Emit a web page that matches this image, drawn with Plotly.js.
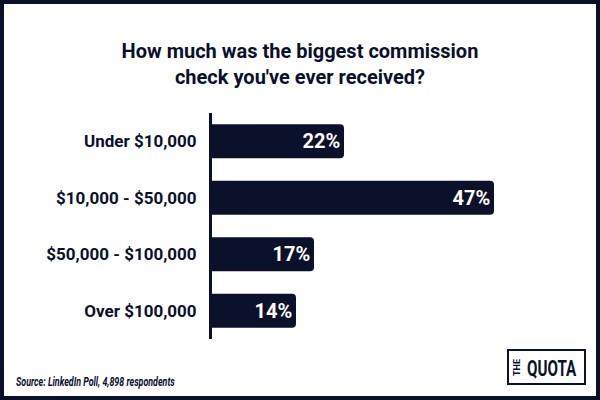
<!DOCTYPE html>
<html>
<head>
<meta charset="utf-8">
<script src="https://cdn.plot.ly/plotly-3.0.1.min.js"></script>
<style>
html, body { margin: 0; padding: 0; background: #ffffff; }
#chart { width: 600px; height: 400px; }
</style>
</head>
<body>
<div id="chart"></div>
<script>
const categories = ["Under $10,000", "$10,000 - $50,000", "$50,000 - $100,000", "Over $100,000"];
const shares = [22, 47, 17, 14];
const shareLabels = ["22%", "47%", "17%", "14%"];
const titleText = "How much was the biggest commission<br>check you've ever received?";
const sourceText = "Source: LinkedIn Poll, 4,898 respondents";
const logoMain = "QUOTA";
const logoSide = "THE";

const NAVY = "#0b102b";
const W = 600, H = 400;
const M = { l: 212, r: 40, t: 113, b: 61 };
const PW = W - M.l - M.r, PH = H - M.t - M.b;
const px = x => (x - M.l) / PW;
const py = y => (H - M.b - y) / PH;

const trace = {
  type: "bar",
  orientation: "h",
  y: categories,
  x: shares,
  text: shareLabels,
  textposition: "inside",
  insidetextanchor: "end",
  textangle: 0,
  textfont: { family: "Roboto", size: 20, color: "#ffffff", weight: 700 },
  marker: { color: NAVY, cornerradius: 4 },
  hoverinfo: "none",
  cliponaxis: false
};

const layout = {
  width: W, height: H,
  margin: M,
  paper_bgcolor: "#ffffff",
  plot_bgcolor: "#ffffff",
  showlegend: false,
  bargap: 0.4,
  title: {
    text: titleText,
    font: { family: "Roboto", size: 20, color: NAVY, weight: 700 },
    x: 0.5, xref: "container", xanchor: "center",
    y: 0.855, yref: "container", yanchor: "middle"
  },
  xaxis: {
    range: [0, 58],
    showgrid: false, zeroline: false, showline: false,
    showticklabels: false, ticks: "", fixedrange: true
  },
  yaxis: {
    autorange: "reversed",
    showgrid: false, zeroline: false,
    showline: true, linecolor: NAVY, linewidth: 3,
    ticks: "outside", ticklen: 9, tickcolor: "rgba(0,0,0,0)",
    tickfont: { family: "Roboto", size: 17, color: NAVY, weight: 700 },
    fixedrange: true
  },
  shapes: [
    { type: "rect", xref: "paper", yref: "paper", layer: "above",
      x0: px(0), x1: px(600), y0: py(400), y1: py(0),
      line: { color: NAVY, width: 8 }, fillcolor: "rgba(0,0,0,0)" },
    { type: "rect", xref: "paper", yref: "paper", layer: "above",
      x0: px(508), x1: px(585), y0: py(384), y1: py(350),
      line: { color: NAVY, width: 2 }, fillcolor: "rgba(0,0,0,0)" }
  ],
  annotations: [
    { xref: "paper", yref: "paper", x: px(14), y: py(382), xanchor: "left", yanchor: "middle",
      text: sourceText, showarrow: false,
      font: { family: "Roboto", size: 12, color: NAVY, style: "italic", weight: 700 } },
    { xref: "paper", yref: "paper", x: px(525), y: py(368), xanchor: "left", yanchor: "middle",
      text: logoMain, showarrow: false,
      font: { family: "Roboto", size: 22, color: NAVY, weight: 700 } },
    { xref: "paper", yref: "paper", x: px(517), y: py(368), xanchor: "center", yanchor: "middle",
      text: logoSide, showarrow: false, textangle: -90,
      font: { family: "Roboto", size: 9, color: NAVY, weight: 700 } }
  ]
};

// horizontal condensing of narrow-font texts (no condensed font installed)
const condense = {};
condense[sourceText] = 0.74;
condense[logoMain] = 0.69;

Plotly.newPlot("chart", [trace], layout, { displayModeBar: false, staticPlot: true }).then(gd => {
  gd.querySelectorAll("text.annotation-text").forEach(t => {
    const s = condense[t.textContent];
    if (!s) return;
    const b = t.getBBox();
    const ax = b.x;
    t.setAttribute("transform", `translate(${ax},0) scale(${s},1) translate(${-ax},0)`);
  });
});
</script>
</body>
</html>
